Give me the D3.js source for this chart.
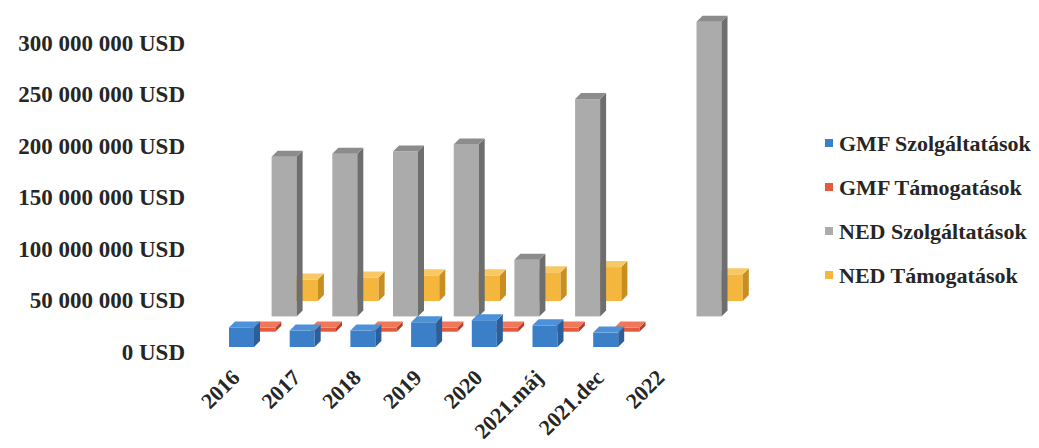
<!DOCTYPE html>
<html>
<head>
<meta charset="utf-8">
<script src="https://cdnjs.cloudflare.com/ajax/libs/d3/7.8.5/d3.min.js"></script>
<style>
  body { margin: 0; background: #fff; }
  .chart text { font-family: "Liberation Serif", "Times New Roman", serif; font-weight: bold; fill: #262626; }
</style>
</head>
<body>
<div class="chart"></div>
<script>
// data
var categories = ["2016", "2017", "2018", "2019", "2020", "2021.máj", "2021.dec", "2022"];
var seriesNames = ["GMF Szolgáltatások", "GMF Támogatások", "NED Szolgáltatások", "NED Támogatások"];
var gmfSzolg = [19e6, 16e6, 16e6, 24e6, 26e6, 21e6, 14e6, 0];
var gmfTam   = [4e6, 4e6, 4e6, 4e6, 4e6, 4e6, 4e6, 0];
var nedSzolg = [155e6, 158e6, 160e6, 167e6, 55e6, 211e6, 0, 286e6];
var nedTam   = [21e6, 23e6, 25e6, 25e6, 28e6, 33e6, 0, 26e6];
var yTicks = [0, 50e6, 100e6, 150e6, 200e6, 250e6, 300e6];

var width = 1039;
var height = 448;

// colors: front, side, top
var faceColors = [
  ["#3b7fc8", "#2a5f9c", "#4d91d8"],
  ["#e65a3c", "#b2422b", "#f07759"],
  ["#ababab", "#6e6e6e", "#8c8c8c"],
  ["#f5b63d", "#c98e20", "#f8c865"]
];

// depth shift per series row (oblique 3d look)
var rowDx = 21.3;
var rowDy = -15.3;
var depthX = 6;
var depthY = -6;
var barW = 25;

const svg = d3.select(".chart")
              .append("svg")
              .attr("width", width)
              .attr("height", height);

const yScale = d3.scaleLinear()
                 .domain([0, 300e6])
                 .range([352, 43]);

const xScale = d3.scaleBand()
                 .domain(categories)
                 .range([229, 229 + 60.7 * categories.length])
                 .padding(0);

var rows = [gmfSzolg, gmfTam, nedSzolg, nedTam];

// y axis labels
const yAxis = d3.axisLeft(yScale)
                .tickValues(yTicks)
                .tickSize(0)
                .tickPadding(0)
                .tickFormat(d => d3.format(",")(d).replace(/,/g, " ") + " USD");

var yg = svg.append("g")
   .attr("transform", "translate(185,0)")
   .call(yAxis);
yg.select(".domain").remove();
yg.selectAll("text")
  .style("font-size", "23px")
  .attr("fill", "#262626");
yg.attr("font-family", null).attr("font-size", null);

// bars, back row first
var plot = svg.append("g");
for (var k = rows.length - 1; k >= 0; k--) {
  var base = yScale(0) - 5 + k * rowDy;
  var g = plot.append("g").attr("class", "row-" + k);
  var cols = faceColors[k];
  rows[k].forEach((v, i) => {
    if (!v) return;
    var x = xScale(categories[i]) + k * rowDx;
    var top = base - (yScale(0) - yScale(v));
    // front
    g.append("rect")
     .attr("x", x)
     .attr("y", top)
     .attr("width", barW)
     .attr("height", base - top)
     .attr("fill", cols[0]);
    // side
    g.append("polygon")
     .attr("points", [[x + barW, top], [x + barW + depthX, top + depthY], [x + barW + depthX, base + depthY], [x + barW, base]].join(" "))
     .attr("fill", cols[1]);
    // top
    g.append("polygon")
     .attr("points", [[x, top], [x + depthX, top + depthY], [x + barW + depthX, top + depthY], [x + barW, top]].join(" "))
     .attr("fill", cols[2]);
  });
}

// category labels
svg.append("g")
   .selectAll("text")
   .data(categories)
   .enter()
   .append("text")
   .attr("text-anchor", "end")
   .attr("transform", d => "translate(" + (xScale(d) + 12) + ",379) rotate(-45)")
   .style("font-size", "22px")
   .text(d => d);

// legend
var legend = svg.append("g")
   .attr("transform", "translate(825,143)");
legend.selectAll("rect")
      .data(seriesNames)
      .enter()
      .append("rect")
      .attr("x", 0)
      .attr("y", (d, i) => i * 44 - 4)
      .attr("width", 8)
      .attr("height", 8)
      .attr("fill", (d, i) => faceColors[i][0]);
legend.selectAll("text")
      .data(seriesNames)
      .enter()
      .append("text")
      .attr("x", 14)
      .attr("y", (d, i) => i * 44)
      .attr("dy", "0.35em")
      .style("font-size", "22px")
      .text(d => d);
</script>
</body>
</html>
